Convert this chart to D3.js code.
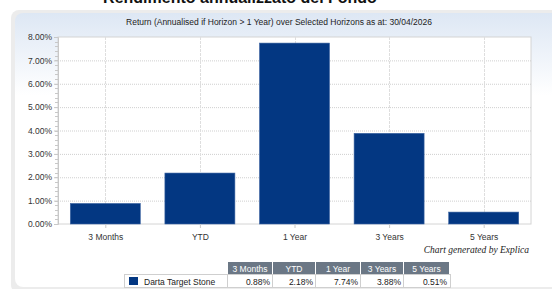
<!DOCTYPE html>
<html>
<head>
<meta charset="utf-8">
<script src="https://cdn.jsdelivr.net/npm/d3@7"></script>
<style>
  body { margin: 0; background: #fff; }
  svg { display: block; font-family: Arial, "Liberation Sans", sans-serif; }
</style>
</head>
<body>
<div id="chart"></div>
<script>
var svgWidth = 552;
var svgHeight = 289;

// data
var horizons = ["3 Months", "YTD", "1 Year", "3 Years", "5 Years"];
var returns = [0.88, 2.18, 7.74, 3.88, 0.51];
var seriesName = "Darta Target Stone";
var yTicks = [0, 1, 2, 3, 4, 5, 6, 7, 8];

var margin = { top: 37, right: 21, bottom: 65, left: 58 };
var width = svgWidth - margin.left - margin.right;
var height = svgHeight - margin.top - margin.bottom;

var svg = d3.select("#chart")
  .append("svg")
  .attr("width", svgWidth)
  .attr("height", svgHeight);

var defs = svg.append("defs");
var grad = defs.append("linearGradient")
  .attr("id", "bg").attr("x1", 0).attr("y1", 0).attr("x2", 0).attr("y2", 1);
grad.append("stop").attr("offset", "0%").attr("stop-color", "#dde7f4");
grad.append("stop").attr("offset", "30%").attr("stop-color", "#ffffff");

// panel with shadow on the left
svg.append("rect")
  .attr("x", 11).attr("y", 10).attr("width", 560).attr("height", 283)
  .attr("rx", 8).attr("fill", "#ececec");
svg.append("rect")
  .attr("x", 15).attr("y", 13).attr("width", 560).attr("height", 274)
  .attr("rx", 8).attr("fill", "url(#bg)");

// heading, cut off at the top like in the screenshot
svg.append("text")
  .attr("x", 240).attr("y", 3)
  .attr("text-anchor", "middle")
  .attr("font-size", 16).attr("font-weight", "bold").attr("fill", "#111")
  .text("Rendimento annualizzato del Fondo");

svg.append("text")
  .attr("x", 279).attr("y", 25)
  .attr("text-anchor", "middle")
  .attr("font-size", 8.5).attr("fill", "#222")
  .text("Return (Annualised if Horizon > 1 Year) over Selected Horizons as at: 30/04/2026");

var g = svg.append("g").attr("transform", "translate(" + margin.left + "," + margin.top + ")");

var x = d3.scaleBand().domain(horizons).range([0, width]).paddingInner(0.26).paddingOuter(0.13);
var xc = d3.scalePoint().domain(horizons).range([0, width]).padding(0.5);
var y = d3.scaleLinear().domain([0, 8]).range([height, 0]);

g.append("rect")
  .attr("width", width).attr("height", height)
  .attr("fill", "#fff").attr("stroke", "#d4d4d4");

// horizontal grid
g.selectAll(".hgrid")
  .data(yTicks.slice(1, -1))
  .enter().append("line")
  .attr("x1", 0).attr("x2", width)
  .attr("y1", d => y(d) + 0.5).attr("y2", d => y(d) + 0.5)
  .attr("stroke", "#cfcfcf").attr("stroke-dasharray", "1,1");

// vertical grid at category centres
g.selectAll(".vgrid")
  .data(horizons)
  .enter().append("line")
  .attr("x1", d => Math.round(xc(d)) + 0.5).attr("x2", d => Math.round(xc(d)) + 0.5)
  .attr("y1", 0).attr("y2", height)
  .attr("stroke", "#dedede").attr("stroke-dasharray", "3,1");

g.selectAll(".bar")
  .data(returns)
  .enter().append("rect")
  .attr("x", (d, i) => x(horizons[i]))
  .attr("y", d => y(d))
  .attr("width", x.bandwidth())
  .attr("height", d => y(0) - y(d))
  .attr("fill", "#033782")
  .attr("stroke", "#3f66a3").attr("stroke-width", 0.6);

// y axis with minor ticks
var minor = d3.range(0, 8.01, 0.2);
g.selectAll(".minor")
  .data(minor)
  .enter().append("line")
  .attr("x1", -3).attr("x2", 0)
  .attr("y1", d => Math.round(y(d)) + 0.5).attr("y2", d => Math.round(y(d)) + 0.5)
  .attr("stroke", "#c8c8c8");

var yAxis = g.append("g")
  .call(d3.axisLeft(y).tickValues(yTicks).tickSize(4).tickPadding(8)
    .tickFormat(d => d3.format(".2f")(d) + "%"));
yAxis.select(".domain").attr("stroke", "#c8c8c8");
yAxis.selectAll(".tick line").attr("stroke", "#c8c8c8");
yAxis.selectAll("text").attr("font-size", 8.5).attr("fill", "#333").attr("x", -6);

var xAxis = g.append("g")
  .attr("transform", "translate(0," + height + ")")
  .call(d3.axisBottom(xc).tickSize(4).tickPadding(6));
xAxis.select(".domain").remove();
xAxis.selectAll(".tick line").attr("stroke", "#c8c8c8");
xAxis.selectAll("text").attr("font-size", 8.5).attr("fill", "#333");

svg.append("text")
  .attr("x", 529).attr("y", 253)
  .attr("text-anchor", "end")
  .attr("font-family", "'Liberation Serif', 'DejaVu Serif', serif")
  .attr("font-style", "italic").attr("font-size", 9.5).attr("fill", "#222")
  .text("Chart generated by Explica");

// data table
var colEdges = [228, 273, 316, 361, 404, 450];
var tbl = svg.append("g");
tbl.selectAll(".hcell")
  .data(horizons)
  .enter().append("rect")
  .attr("x", (d, i) => colEdges[i]).attr("y", 262)
  .attr("width", (d, i) => colEdges[i + 1] - colEdges[i] - 1).attr("height", 12)
  .attr("fill", "#6b7785");
tbl.selectAll(".htext")
  .data(horizons)
  .enter().append("text")
  .attr("x", (d, i) => (colEdges[i] + colEdges[i + 1] - 1) / 2).attr("y", 271.5)
  .attr("text-anchor", "middle")
  .attr("font-size", 8.5).attr("fill", "#fff")
  .text(d => d);

tbl.append("rect")
  .attr("x", 124.5).attr("y", 274.5).attr("width", 326).attr("height", 13)
  .attr("fill", "#fff").attr("stroke", "#cfcfcf");
tbl.selectAll(".sep")
  .data(colEdges.slice(0, -1))
  .enter().append("line")
  .attr("x1", d => d - 0.5).attr("x2", d => d - 0.5)
  .attr("y1", 274.5).attr("y2", 287.5)
  .attr("stroke", "#cfcfcf");
tbl.append("rect")
  .attr("x", 129).attr("y", 277).attr("width", 9).attr("height", 8)
  .attr("fill", "#033782");
tbl.append("text")
  .attr("x", 144).attr("y", 284.5)
  .attr("font-size", 8.5).attr("fill", "#222")
  .text(seriesName);
tbl.selectAll(".vtext")
  .data(returns)
  .enter().append("text")
  .attr("x", (d, i) => colEdges[i + 1] - 3).attr("y", 284.5)
  .attr("text-anchor", "end")
  .attr("font-size", 8.5).attr("fill", "#222")
  .text(d => d3.format(".2f")(d) + "%");
</script>
</body>
</html>
